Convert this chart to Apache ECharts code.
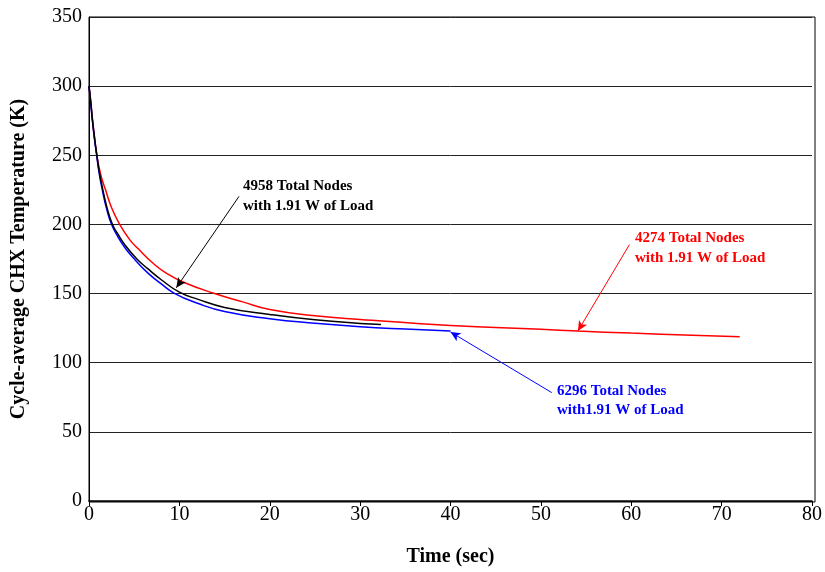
<!DOCTYPE html>
<html>
<head>
    <meta charset="UTF-8">
    <script src="https://cdn.jsdelivr.net/npm/echarts@6/dist/echarts.min.js"></script>
</head>
<body style="margin:0;background:#fff;">
    <div id="main" style="height:572px;width:825px"></div>
    <script type="text/javascript">
        // 读图得到的数据 (时间 sec, 温度 K)
        var redTime   = [0, 0.2, 0.37, 0.6, 0.85, 1.3, 1.83, 2.5, 3.4, 4.5, 5.5, 6.9, 8.5, 10.6, 13.9, 17, 20, 25, 30, 40, 50, 54.1, 60, 65, 72];
        var redTemp   = [300, 289, 277, 264, 251, 236, 225, 212, 200, 189, 182, 173, 165, 157.8, 150, 144, 138.5, 134, 131.3, 127, 124.2, 122.9, 121.4, 120.3, 118.8];
        var blackTime = [0, 0.2, 0.37, 0.6, 0.85, 1.1, 1.47, 2, 2.6, 3.2, 4, 5.3, 6.5, 8, 10, 12, 15, 20, 25, 30, 32.3];
        var blackTemp = [300, 288, 276, 263, 251, 239.5, 227, 212, 200, 193, 185, 175, 168, 160, 151, 146, 140, 134.9, 131, 128.4, 127.7];
        var blueTime  = [0, 0.2, 0.37, 0.6, 0.85, 1.1, 1.47, 2, 2.5, 3.2, 4, 5.07, 6.5, 8, 9.5, 12, 15, 20, 25, 30, 35, 40];
        var blueTemp  = [300, 287, 275.6, 262, 250, 238, 225, 210, 200, 191, 183, 174.6, 165, 157, 150, 143, 137, 131.8, 128.5, 126, 124.3, 122.9];
        var xTicks = [0, 10, 20, 30, 40, 50, 60, 70, 80];
        var yTicks = [0, 50, 100, 150, 200, 250, 300, 350];

        // 箭头起止点 (数据坐标)
        var blackArrow = [[16.6, 220.3], [9.66, 154.2]];
        var redArrow   = [[59.8, 185.4], [54.1, 122.9]];
        var blueArrow  = [[51.2, 78.4], [40, 122.2]];

        function pairs(xs, ys) {
            var out = [];
            for (var i = 0; i < xs.length; i++) out.push([xs[i], ys[i]]);
            return out;
        }

        function arrow(a, color) {
            return {
                silent: true,
                animation: false,
                symbol: ['none', 'arrow'],
                symbolSize: [7, 10],
                label: {show: false},
                lineStyle: {color: color, width: 1, type: 'solid'},
                data: [[{coord: a[0]}, {coord: a[1]}]]
            };
        }

        var font = '"Liberation Serif", "Times New Roman", serif';
        var myChart = echarts.init(document.getElementById('main'));

        var option = {
            animation: false,
            grid: {left: 89, right: 10, top: 17, bottom: 70, containLabel: false},
            xAxis: {
                type: 'value',
                min: xTicks[0], max: xTicks[xTicks.length - 1], interval: 10,
                name: 'Time (sec)',
                nameLocation: 'middle',
                nameGap: 46,
                nameTextStyle: {fontFamily: font, fontWeight: 'bold', fontSize: 20, color: '#000'},
                axisLine: {show: true, onZero: false, lineStyle: {color: '#000', width: 1.5}},
                axisTick: {show: true, inside: false, length: 5, lineStyle: {color: '#000'}},
                axisLabel: {fontFamily: font, fontSize: 20, color: '#000', margin: 4},
                splitLine: {show: false}
            },
            yAxis: {
                type: 'value',
                min: yTicks[0], max: yTicks[yTicks.length - 1], interval: 50,
                name: 'Cycle-average CHX Temperature (K)',
                nameLocation: 'middle',
                nameGap: 60,
                nameTextStyle: {fontFamily: font, fontWeight: 'bold', fontSize: 20, color: '#000'},
                axisLine: {show: true, lineStyle: {color: '#000', width: 1}},
                axisTick: {show: false},
                axisLabel: {fontFamily: font, fontSize: 20, color: '#000', margin: 7},
                splitLine: {show: true, lineStyle: {color: '#222', width: 1}}
            },
            graphic: [
                {type: 'rect', shape: {x: 89, y: 17, width: 726, height: 485}, style: {fill: 'none', stroke: '#000', lineWidth: 1}, silent: true, z: 0},
                {type: 'text', left: 243, top: 176, style: {text: '4958 Total Nodes\nwith 1.91 W of Load', fill: '#000', font: 'bold 15px ' + font, lineHeight: 20}},
                {type: 'text', left: 635, top: 228, style: {text: '4274 Total Nodes\nwith 1.91 W of Load', fill: '#ff0000', font: 'bold 15px ' + font, lineHeight: 20}},
                {type: 'text', left: 557, top: 382, style: {text: '6296 Total Nodes\nwith1.91 W of Load', fill: '#0000ff', font: 'bold 15px ' + font, lineHeight: 19}}
            ],
            series: [
                {
                    name: '4274',
                    type: 'line',
                    data: pairs(redTime, redTemp),
                    smooth: true,
                    showSymbol: false,
                    lineStyle: {color: '#ff0000', width: 1.5},
                    markLine: arrow(redArrow, '#ff0000'),
                    z: 3
                },
                {
                    name: '4958',
                    type: 'line',
                    data: pairs(blackTime, blackTemp),
                    smooth: true,
                    showSymbol: false,
                    lineStyle: {color: '#000', width: 1.5},
                    markLine: arrow(blackArrow, '#000'),
                    z: 4
                },
                {
                    name: '6296',
                    type: 'line',
                    data: pairs(blueTime, blueTemp),
                    smooth: true,
                    showSymbol: false,
                    lineStyle: {color: '#0000ff', width: 1.5},
                    markLine: arrow(blueArrow, '#0000ff'),
                    z: 3
                }
            ]
        };

        myChart.setOption(option);
    </script>
</body>
</html>
